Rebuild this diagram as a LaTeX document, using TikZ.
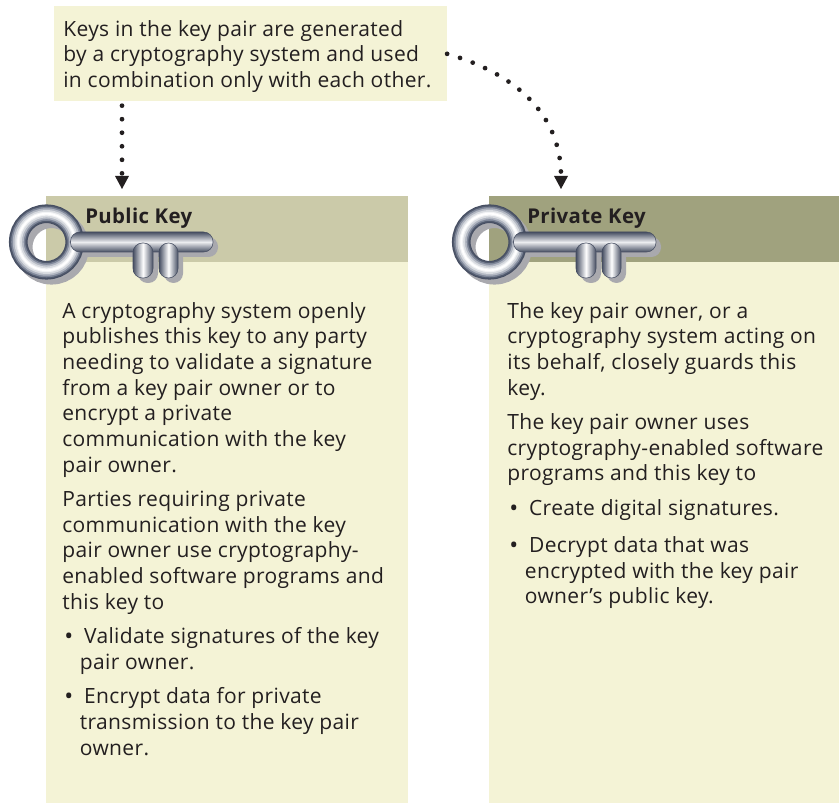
\documentclass[tikz,border=0pt]{standalone}
\usepackage{fontspec}
\setmainfont[LetterSpace=1.7]{Open Sans}
\definecolor{paleCream}{HTML}{F4F3D6}
\definecolor{headPublic}{HTML}{CBCAA9}
\definecolor{headPrivate}{HTML}{A0A27E}
\definecolor{inkText}{HTML}{231F20}
\definecolor{keyDark}{HTML}{464E62}
\definecolor{keyMid}{HTML}{7F8799}
\definecolor{keyShadow}{HTML}{A9A9AE}
\newcommand{\itemdot}{\makebox[12.4pt][l]{\hspace{1.2pt}\raisebox{-.5pt}{\fontsize{13.5}{14.6}\selectfont•}}}
\newcommand{\itemhang}{\hspace{10pt}}
\tikzset{
  panel/.style={fill=#1, draw=none, inner sep=0pt, anchor=north west},
  bodytext/.style={anchor=north west, inner sep=0pt, align=left, text=inkText, font=\fontsize{11.95}{14.6}\selectfont},
  headtext/.style={anchor=west, inner sep=0pt, text=inkText, font=\fontsize{11.6}{14.6}\selectfont\bfseries},
  dotflow/.style={line width=2.7pt, line cap=round, dash pattern=on 0pt off 7.7pt, inkText},
  keybar/.style={rounded corners=5.4pt, draw=keyDark, line width=.3pt},
  keyicon/.pic={
    % shadow
    \draw [keyShadow, line width=10.6pt] (5,5) circle (28.25);
    \fill [keyShadow, rounded corners=5.4pt] (30,-5) rectangle (171.5,15);
    \fill [keyShadow, rounded corners=5.4pt] (91.5,6) rectangle (111.5,41);
    \fill [keyShadow, rounded corners=5.4pt] (117.5,6) rectangle (136.5,41);
    % ring
    \foreach \w/\c in {10.6/keyDark, 9.4/keyDark!80!keyMid, 8/keyMid, 6.2/keyMid!60!white, 4.2/keyMid!30!white, 2.2/keyMid!10!white, 1/white}
      \draw [\c, line width=\w pt] (0,0) circle (28.25);
    % bar
    \shade [keybar, top color=keyDark, bottom color=keyDark, middle color=white!85!keyMid] (24,-10) rectangle (166.5,10);
    \shade [keybar, left color=keyDark, right color=keyDark, middle color=white] (86.5,1) rectangle (106.5,36);
    \shade [keybar, left color=keyDark, right color=keyDark, middle color=white] (112.5,1) rectangle (131.5,36);
  }
}
\begin{document}
\begin{tikzpicture}[x=0.02cm,y=-0.02cm]
\useasboundingbox (0,0) rectangle (839,803);

% note on top
\node (noteBox) [panel=paleCream, minimum width=7.86cm, minimum height=1.9cm] at (53.5,6) {};
\node (noteText) [bodytext] at (63,20) {Keys in the key pair are generated\\by a cryptography system and used\\in combination only with each other.};

% left column
\node (pubBody) [panel=paleCream, minimum width=7.24cm, minimum height=10.82cm] at (46,262) {};
\node (pubHead) [panel=headPublic, minimum width=7.24cm, minimum height=1.32cm] at (46,196) {};
\pic at (46.5,242) {keyicon};
\node (pubTitle) [headtext] at (85,218) {Public Key};
\node (pubText) [bodytext] at (62,302) {A cryptography system openly\\publishes this key to any party\\needing to validate a signature\\from a key pair owner or to\\encrypt a private\\communication with the key\\pair owner.\\[5pt]
Parties requiring private\\communication with the key\\pair owner use cryptography-\\enabled software programs and\\this key to\\[5pt]
\itemdot Validate signatures of the key\\\itemhang pair owner.\\[5pt]
\itemdot Encrypt data for private\\\itemhang transmission to the key pair\\\itemhang owner.};

% right column
\node (privBody) [panel=paleCream, minimum width=7cm, minimum height=10.82cm] at (489,262) {};
\node (privHead) [panel=headPrivate, minimum width=7cm, minimum height=1.32cm] at (489,196) {};
\pic at (489.5,242) {keyicon};
\node (privTitle) [headtext] at (527,218) {Private Key};
\node (privText) [bodytext] at (507,302) {The key pair owner, or a\\cryptography system acting on\\its behalf, closely guards this\\key.\\[5pt]
The key pair owner uses\\cryptography-enabled software\\programs and this key to\\[5pt]
\itemdot Create digital signatures.\\[6.5pt]
\itemdot Decrypt data that was\\\itemhang encrypted with the key pair\\\itemhang owner’s public key.};

% arrows
\coordinate (pubEnd) at (122,176);
\coordinate (privEnd) at (561,176);
\draw [dotflow] (noteBox.south -| pubEnd) ++(0,4) -- (pubEnd);
\draw [dotflow] (noteBox.east) to[out=-16, in=90] (privEnd);
\fill [inkText] (pubEnd) ++(-7,0) -- ++(14,0) -- ++(-7,13) -- cycle;
\fill [inkText] (privEnd) ++(-7,0) -- ++(14,0) -- ++(-7,13) -- cycle;
\end{tikzpicture}
\end{document}
